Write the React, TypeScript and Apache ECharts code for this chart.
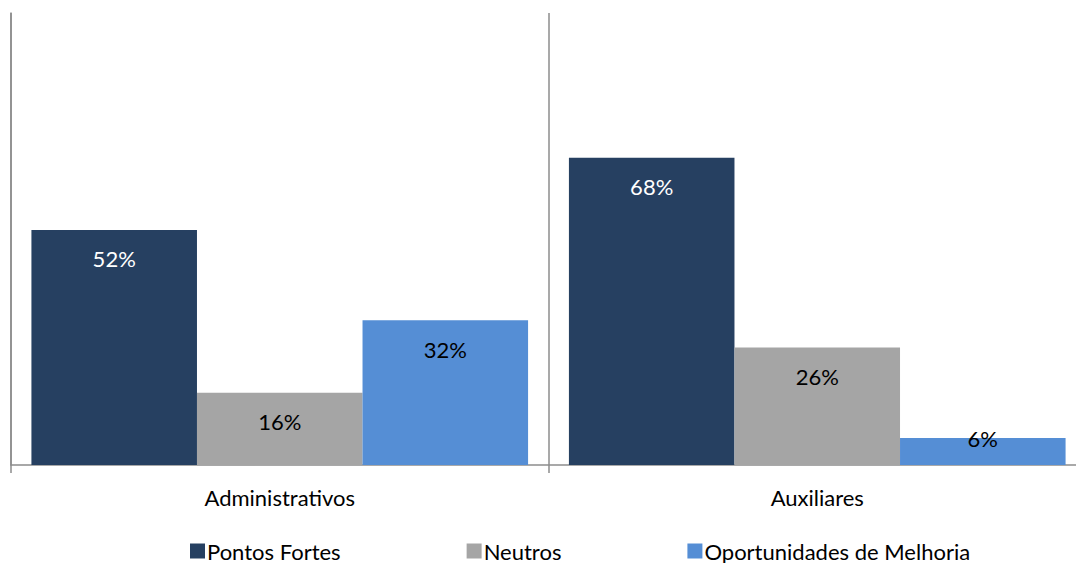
import React, { useEffect, useRef } from "react";
import * as echarts from "echarts";

const categories = ["Administrativos", "Auxiliares"];
const seriesNames = ["Pontos Fortes", "Neutros", "Oportunidades de Melhoria"];
const pontosFortes = [52, 68];
const neutros = [16, 26];
const oportunidades = [32, 6];

const FONT = "Lato, 'Noto Sans', sans-serif";
const FS = 22;

export default function App() {
  const ref = useRef<HTMLDivElement>(null);
  useEffect(() => {
    if (!ref.current) return;
    const chart = echarts.init(ref.current, undefined, { renderer: "svg" });
    const labelBase = {
      show: true,
      position: "insideTop" as const,
      distance: 18,
      fontSize: FS,
      fontFamily: FONT,
      formatter: "{c}%",
    };
    chart.setOption({
      animation: false,
      backgroundColor: "#ffffff",
      textStyle: { fontFamily: FONT },
      grid: { left: 11, right: 14, top: 13, bottom: 98 },
      legend: {
        data: seriesNames,
        left: 185,
        top: 535,
        itemWidth: 15,
        itemHeight: 15,
        itemGap: 126,
        icon: "rect",
        textStyle: { fontSize: FS, fontFamily: FONT, color: "#000000", padding: [0, 0, 0, -3] },
      },
      xAxis: {
        type: "category",
        data: categories,
        axisLine: { show: true, lineStyle: { color: "#8c8c8c", width: 1.5 } },
        axisTick: { show: true, length: 8, lineStyle: { color: "#8c8c8c", width: 1.5 } },
        splitLine: { show: true, lineStyle: { color: "#8c8c8c", width: 1.5 } },
        axisLabel: { fontSize: FS, fontFamily: FONT, color: "#000000", margin: 21 },
      },
      yAxis: {
        type: "value",
        min: 0,
        max: 100,
        axisLine: { show: true, lineStyle: { color: "#8c8c8c", width: 1.5 } },
        axisTick: { show: false },
        axisLabel: { show: false },
        splitLine: { show: false },
      },
      series: [
        {
          name: seriesNames[0],
          type: "bar",
          data: pontosFortes,
          barGap: "0%",
          barCategoryGap: "7.6%",
          itemStyle: { color: "#264061" },
          label: { ...labelBase, color: "#ffffff" },
        },
        {
          name: seriesNames[1],
          type: "bar",
          data: neutros,
          barGap: "0%",
          barCategoryGap: "7.6%",
          itemStyle: { color: "#a5a5a5" },
          label: { ...labelBase, color: "#000000" },
        },
        {
          name: seriesNames[2],
          type: "bar",
          data: oportunidades.map((v) =>
            v < 10 ? { value: v, label: { distance: -10 } } : v
          ),
          barGap: "0%",
          barCategoryGap: "7.6%",
          itemStyle: { color: "#558ed5" },
          label: { ...labelBase, color: "#000000" },
        },
      ],
    });
    return () => chart.dispose();
  }, []);
  return (
    <div
      style={{
        position: "fixed",
        left: 0,
        top: 0,
        width: 1076,
        height: 563,
        overflow: "hidden",
        background: "#fff",
      }}
    >
      <div ref={ref} style={{ width: 1100, height: 563 }} />
    </div>
  );
}
